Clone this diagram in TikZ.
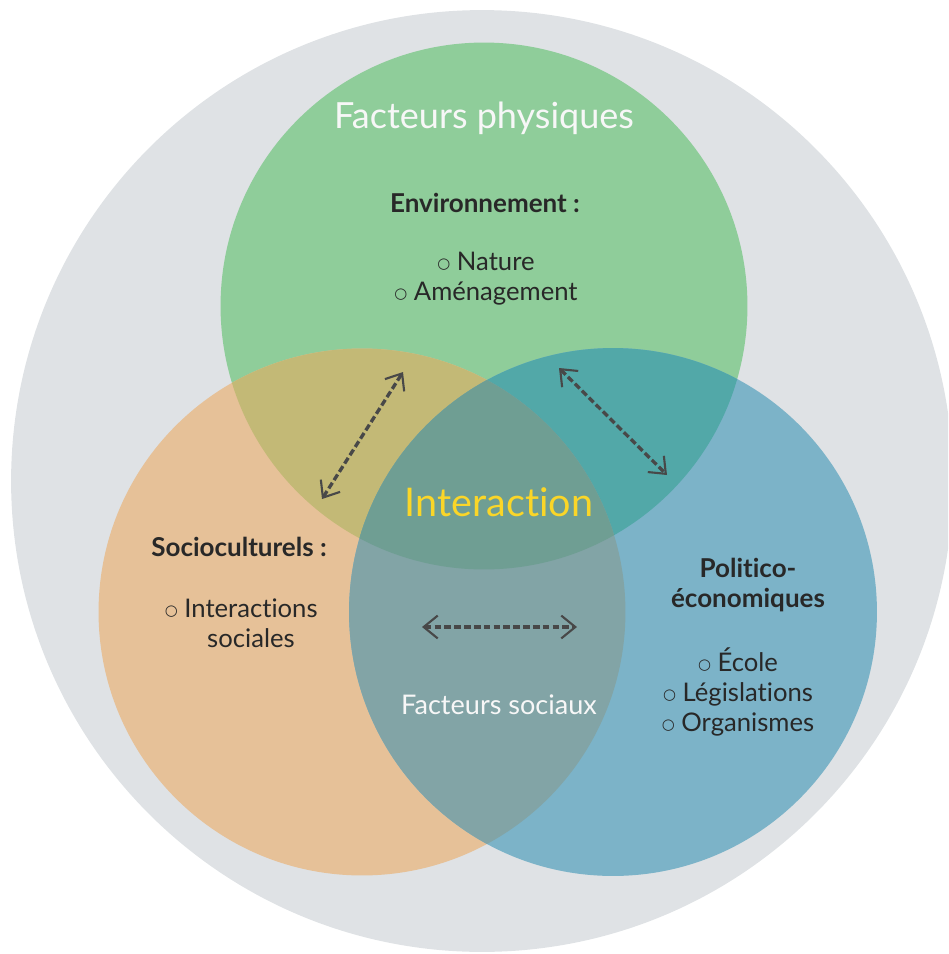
\documentclass[tikz,border=0pt]{standalone}
\usepackage{fontspec}
\usepackage{graphicx}
\setmainfont{Lato}[Ligatures=NoCommon]
\newfontfamily\symfont{DejaVu Sans}
\usetikzlibrary{arrows.meta}
\definecolor{greyc}{RGB}{223,226,229}
\definecolor{greenc}{RGB}{143,205,154}
\definecolor{orangec}{RGB}{230,193,152}
\definecolor{bluec}{RGB}{124,179,200}
\definecolor{goc}{RGB}{195,185,118}
\definecolor{gbc}{RGB}{82,168,168}
\definecolor{obc}{RGB}{130,164,166}
\definecolor{centerc}{RGB}{111,158,147}
\definecolor{textc}{RGB}{40,40,40}
\definecolor{titlec}{RGB}{247,247,247}
\definecolor{yellowc}{RGB}{250,214,40}
\definecolor{linec}{RGB}{72,72,72}
\newcommand{\bul}{\raisebox{1.2pt}{\symfont\scalebox{0.58}{○}}\ }
\tikzset{
  title/.style={text=titlec, font=\fontsize{20.5}{25}\selectfont, inner sep=0pt},
  inter/.style={text=yellowc, font=\fontsize{22.5}{27}\selectfont, inner sep=0pt},
  head/.style={text=textc, font=\bfseries\fontsize{14.8}{17.5}\selectfont, inner sep=0pt},
  body/.style={text=textc, font=\fontsize{14.6}{17.2}\selectfont, inner sep=0pt, align=center},
  soft/.style={text=titlec, font=\fontsize{15.4}{17}\selectfont, inner sep=0pt},
  conn/.style={draw=linec, line width=1.9pt, dash pattern=on 3.8pt off 1.8pt,
    {Straight Barb[length=8pt, width=13pt, line width=1.2pt]}-{Straight Barb[length=8pt, width=13pt, line width=1.2pt]}}
}
\begin{document}
\begin{tikzpicture}[x=0.02cm, y=-0.02cm]
\useasboundingbox (0,0) rectangle (948,954);
\clip (0,0) rectangle (948,954);
% background circle
\fill[greyc] (482,481) circle[radius=9.42cm];
% circles
\fill[greenc] (484,306) circle[radius=5.27cm];
\fill[orangec] (362,612) circle[radius=5.27cm];
\fill[bluec] (613,612) circle[radius=5.28cm];
% pairwise overlaps
\begin{scope}
  \clip (484,306) circle[radius=5.27cm];
  \fill[goc] (362,612) circle[radius=5.27cm];
  \fill[gbc] (613,612) circle[radius=5.28cm];
\end{scope}
\begin{scope}
  \clip (362,612) circle[radius=5.27cm];
  \fill[obc] (613,612) circle[radius=5.28cm];
\end{scope}
\begin{scope}
  \clip (484,306) circle[radius=5.27cm];
  \clip (362,612) circle[radius=5.27cm];
  \fill[centerc] (613,612) circle[radius=5.28cm];
\end{scope}
% texts
\node[title] (phys) at (484,118) {Facteurs physiques};
\node[head] (env) at (485,203) {Environnement :};
\node[body] (envlist) at (486,279) {\bul Nature\\\bul Aménagement};
\node[inter] (inter) at (499,502) {Interaction};
\node[head] (soc) at (239,547) {Socioculturels :};
\node[body] (soclist) at (251,623) {\llap{\bul}Interactions\\sociales};
\node[head, align=center] (pol) at (748,585) {Politico-\\économiques};
\node[body] (pollist) at (738,692) {\bul École\\\bul Législations\\\bul Organismes};
\node[soft] (soc2) at (499,705) {Facteurs sociaux};
% connectors
\coordinate (a1s) at (322,499);
\coordinate (a1e) at (403,372);
\coordinate (a2s) at (559,368);
\coordinate (a2e) at (667,475);
\coordinate (a3s) at (422,627);
\coordinate (a3e) at (577,627);
\draw[conn] (a1s) -- (a1e);
\draw[conn] (a2s) -- (a2e);
\draw[conn] (a3s) -- (a3e);
\end{tikzpicture}
\end{document}
